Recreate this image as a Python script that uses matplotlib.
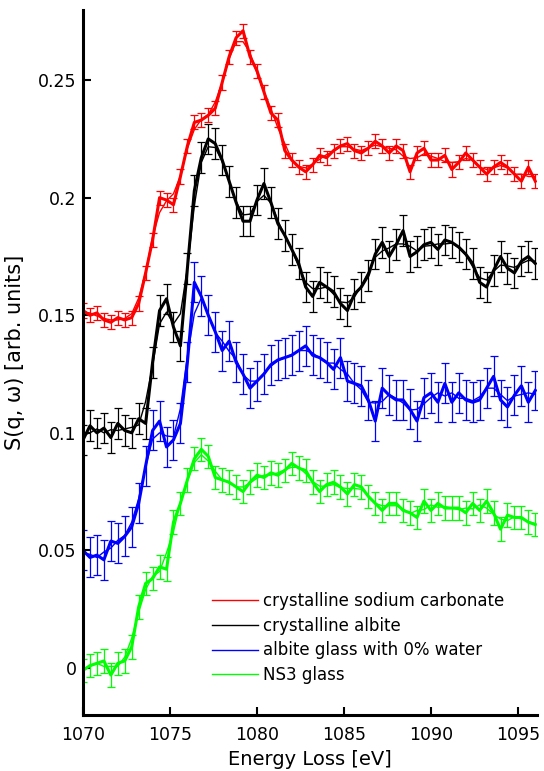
import matplotlib
matplotlib.use('Agg')
import matplotlib.pyplot as plt
import numpy as np
from matplotlib.ticker import FuncFormatter

plt.rcParams['font.family'] = ['DejaVu Sans']

# energy grid [eV]
energy = np.round(np.arange(1070.0, 1096.01, 0.4), 1)

carbonate = [0.152, 0.150, 0.151, 0.148, 0.147, 0.149, 0.148, 0.149, 0.155, 0.168,
             0.182, 0.200, 0.199, 0.197, 0.209, 0.222, 0.232, 0.233, 0.235, 0.238,
             0.249, 0.260, 0.268, 0.271, 0.260, 0.254, 0.245, 0.236, 0.233, 0.220,
             0.216, 0.213, 0.211, 0.214, 0.218, 0.217, 0.220, 0.222, 0.223, 0.220,
             0.219, 0.221, 0.224, 0.222, 0.219, 0.222, 0.220, 0.211, 0.219, 0.221,
             0.216, 0.216, 0.218, 0.212, 0.215, 0.219, 0.216, 0.213, 0.210, 0.213,
             0.215, 0.213, 0.210, 0.207, 0.213, 0.207]

albite = [0.097, 0.103, 0.100, 0.102, 0.098, 0.104, 0.101, 0.100, 0.106, 0.104,
          0.130, 0.152, 0.157, 0.145, 0.137, 0.170, 0.203, 0.217, 0.225, 0.223,
          0.216, 0.207, 0.198, 0.190, 0.190, 0.199, 0.206, 0.198, 0.189, 0.184,
          0.178, 0.172, 0.162, 0.158, 0.164, 0.162, 0.160, 0.155, 0.152, 0.159,
          0.162, 0.167, 0.176, 0.181, 0.175, 0.180, 0.186, 0.175, 0.177, 0.180,
          0.181, 0.178, 0.182, 0.181, 0.179, 0.176, 0.172, 0.164, 0.162, 0.169,
          0.175, 0.170, 0.168, 0.173, 0.175, 0.172]

albite_glass = [0.050, 0.047, 0.048, 0.046, 0.054, 0.053, 0.056, 0.060, 0.070, 0.086,
                0.101, 0.105, 0.094, 0.097, 0.104, 0.130, 0.164, 0.158, 0.150, 0.143,
                0.135, 0.139, 0.130, 0.125, 0.119, 0.122, 0.125, 0.129, 0.131, 0.132,
                0.133, 0.135, 0.137, 0.133, 0.132, 0.130, 0.127, 0.132, 0.122, 0.121,
                0.120, 0.114, 0.105, 0.119, 0.116, 0.114, 0.114, 0.110, 0.105, 0.115,
                0.117, 0.113, 0.121, 0.113, 0.117, 0.114, 0.113, 0.114, 0.119, 0.124,
                0.114, 0.111, 0.116, 0.120, 0.113, 0.118]

ns3 = [-0.001, 0.001, 0.002, 0.003, -0.003, 0.002, 0.003, 0.009, 0.026, 0.036,
       0.038, 0.043, 0.042, 0.062, 0.070, 0.080, 0.089, 0.093, 0.090, 0.081,
       0.080, 0.079, 0.077, 0.075, 0.079, 0.082, 0.081, 0.083, 0.082, 0.084,
       0.087, 0.085, 0.084, 0.079, 0.075, 0.078, 0.079, 0.077, 0.074, 0.078,
       0.077, 0.073, 0.070, 0.067, 0.070, 0.070, 0.067, 0.066, 0.064, 0.071,
       0.067, 0.070, 0.068, 0.068, 0.068, 0.066, 0.070, 0.067, 0.071, 0.066,
       0.059, 0.065, 0.064, 0.064, 0.062, 0.061]

errors = [0.003, 0.0065, 0.0085, 0.005]
labels = ['crystalline sodium carbonate', 'crystalline albite',
          'albite glass with 0% water', 'NS3 glass']
colors = ['#ff0000', '#000000', '#0000ff', '#00ff00']
series = [carbonate, albite, albite_glass, ns3]


def smooth(y, n=3):
    y = np.asarray(y)
    pad = np.pad(y, n // 2, mode='edge')
    return np.convolve(pad, np.ones(n) / n, mode='valid')


fig = plt.figure(figsize=(5.44, 7.71), dpi=100)
ax = fig.add_axes([0.1526, 0.0726, 0.8346, 0.9144])

handles = []
for y, err, c, lab in zip(series, errors, colors, labels):
    h, = ax.plot(energy, smooth(y), color=c, lw=1.0, label=lab, zorder=1)
    ax.errorbar(energy, y, yerr=err, color=c, lw=2.2, elinewidth=0.9,
                capsize=3, capthick=0.9, zorder=2)
    handles.append(h)

ax.set_xlim(1070, 1096.1)
ax.set_ylim(-0.020, 0.2798)
ax.set_xticks([1070, 1075, 1080, 1085, 1090, 1095])
ax.set_yticks([0, 0.05, 0.1, 0.15, 0.2, 0.25])
ax.yaxis.set_major_formatter(FuncFormatter(lambda v, p: '%g' % round(v, 3)))

for s in ['top', 'right']:
    ax.spines[s].set_visible(False)
for s in ['left', 'bottom']:
    ax.spines[s].set_linewidth(2.2)
ax.tick_params(direction='in', length=5.5, width=1.5, labelsize=12.5)
ax.tick_params(axis='x', pad=8)
ax.tick_params(axis='y', pad=4.5)

ax.set_xlabel('Energy Loss [eV]', fontsize=14, labelpad=4)
ax.set_ylabel('S(q, ω) [arb. units]', fontsize=15)
ax.yaxis.set_label_coords(-0.128, 0.515)

ax.legend(handles=handles, loc='lower left', frameon=False, fontsize=12,
          handlelength=2.75, handletextpad=0.3, labelspacing=0.4,
          borderpad=0, borderaxespad=0, bbox_to_anchor=(0.284, 0.044))

fig.savefig('out.png', dpi=100)
